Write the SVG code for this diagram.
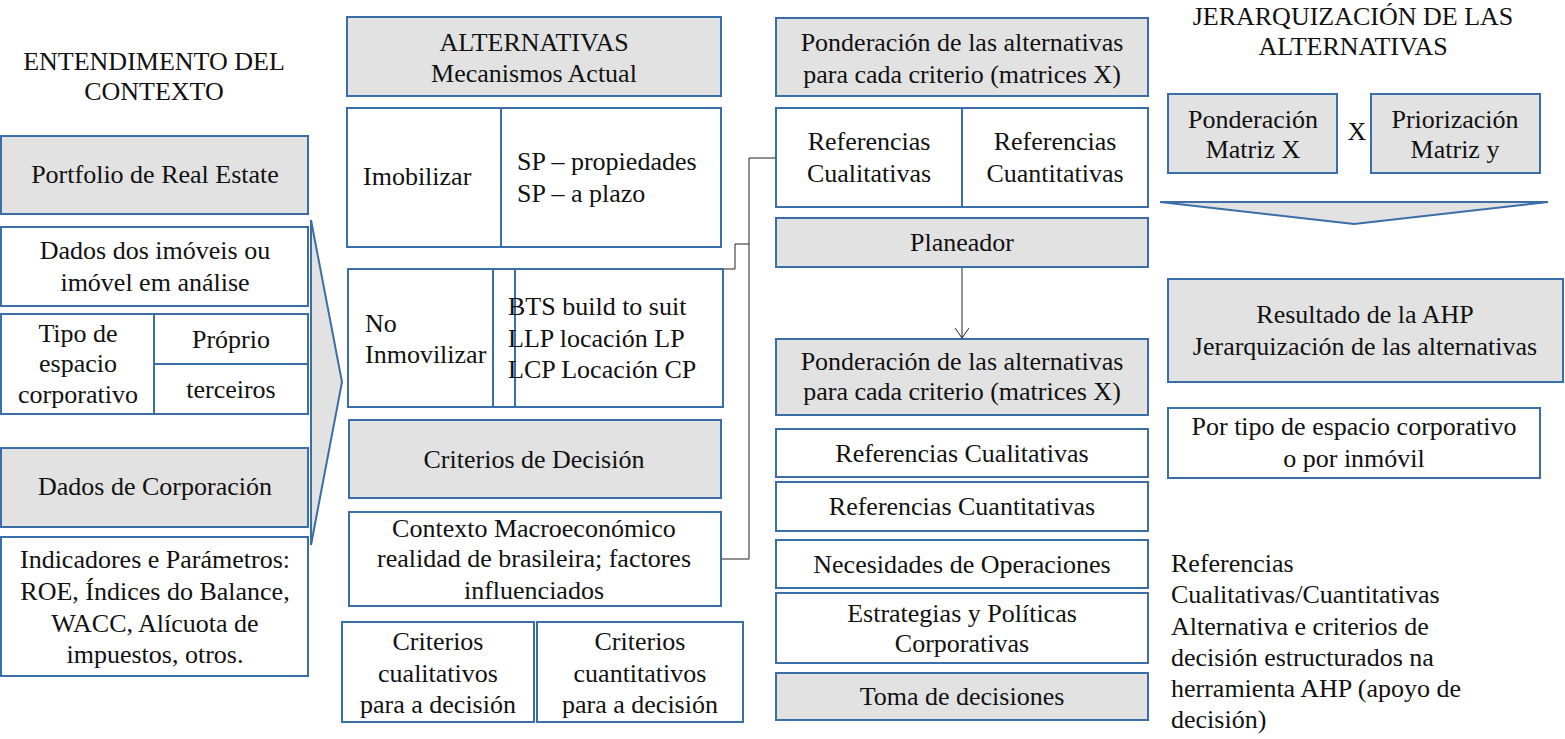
<svg xmlns="http://www.w3.org/2000/svg" width="1565" height="739" viewBox="0 0 1565 739">
<style>
.b{fill:#fff;stroke:#3b6ea8;stroke-width:2}
.g{fill:#e2e2e2;stroke:#3b6ea8;stroke-width:2}
.l{fill:none;stroke:#3b6ea8;stroke-width:2}
text{font-size:26px;fill:#111}
.c{text-anchor:middle}
.cn{fill:none;stroke:#222;stroke-width:1}
</style>
<defs>
<marker id="v" markerWidth="14" markerHeight="14" refX="13" refY="7" orient="auto" markerUnits="userSpaceOnUse" viewBox="0 0 14 14">
<path d="M3,0 L13,7 L3,14" fill="none" stroke="#222" stroke-width="1"/>
</marker>
</defs>
<rect width="1565" height="739" fill="#fff"/>

<g id="connectors">
<path class="cn" d="M721,559 H749 V158 H776"/>
<path class="cn" d="M723,269 H735 V244 H749"/>
<path class="cn" d="M962,267 V338" marker-end="url(#v)"/>
</g>

<g font-family="Liberation Serif">
<g id="title-left">
<text class="c" x="154" y="70">ENTENDIMENTO DEL</text>
<text class="c" x="154" y="100">CONTEXTO</text>
</g>

<g id="arrow-left">
<polygon class="g" points="311,220 342,382 311,545"/>
</g>

<g id="portfolio">
<rect class="g" x="1" y="136" width="307" height="78"/>
<text class="c" x="155" y="183">Portfolio de Real Estate</text>
</g>
<g id="dados-imoveis">
<rect class="b" x="1" y="227" width="307" height="79"/>
<text class="c" x="155" y="259">Dados dos imóveis ou</text>
<text class="c" x="155" y="291">imóvel em análise</text>
</g>
<g id="tipo-espacio">
<rect class="b" x="1" y="314" width="307" height="100"/>
<path class="l" d="M154,314 V414 M154,364 H308"/>
<text class="c" x="78" y="342">Tipo de</text>
<text class="c" x="78" y="372">espacio</text>
<text class="c" x="78" y="403">corporativo</text>
<text class="c" x="231" y="348">Próprio</text>
<text class="c" x="231" y="398">terceiros</text>
</g>
<g id="dados-corporacion">
<rect class="g" x="1" y="448" width="307" height="79"/>
<text class="c" x="155" y="495">Dados de Corporación</text>
</g>
<g id="indicadores">
<rect class="b" x="1" y="537" width="307" height="139"/>
<text class="c" x="155" y="568">Indicadores e Parámetros:</text>
<text class="c" x="155" y="600">ROE, Índices do Balance,</text>
<text class="c" x="155" y="632">WACC, Alícuota de</text>
<text class="c" x="155" y="663">impuestos, otros.</text>
</g>

<g id="alternativas">
<rect class="g" x="347" y="17" width="374" height="79"/>
<text class="c" x="534" y="51">ALTERNATIVAS</text>
<text class="c" x="534" y="82">Mecanismos Actual</text>
</g>
<g id="imobilizar">
<rect class="b" x="347" y="108" width="374" height="139"/>
<path class="l" d="M501,108 V247"/>
<text x="363" y="185">Imobilizar</text>
<text x="517" y="170">SP – propiedades</text>
<text x="517" y="202">SP – a plazo</text>
</g>
<g id="no-inmovilizar">
<rect class="b" x="348" y="269" width="375" height="138"/>
<path class="l" d="M493,269 V407 M515,269 V407"/>
<text x="365" y="332">No</text>
<text x="365" y="363">Inmovilizar</text>
<text x="508" y="315">BTS build to suit</text>
<text x="508" y="347">LLP locación LP</text>
<text x="508" y="378">LCP Locación CP</text>
</g>
<g id="criterios-decision">
<rect class="g" x="349" y="420" width="372" height="78"/>
<text class="c" x="534" y="468">Criterios de Decisión</text>
</g>
<g id="contexto">
<rect class="b" x="349" y="512" width="372" height="94"/>
<text class="c" x="534" y="537">Contexto Macroeconómico</text>
<text class="c" x="534" y="567">realidad de brasileira;  factores</text>
<text class="c" x="534" y="599">influenciados</text>
</g>
<g id="criterios-cualitativos">
<rect class="b" x="342" y="622" width="192" height="100"/>
<text class="c" x="438" y="650">Criterios</text>
<text class="c" x="438" y="682">cualitativos</text>
<text class="c" x="438" y="713">para a decisión</text>
</g>
<g id="criterios-cuantitativos">
<rect class="b" x="537" y="622" width="206" height="100"/>
<text class="c" x="640" y="650">Criterios</text>
<text class="c" x="640" y="682">cuantitativos</text>
<text class="c" x="640" y="713">para a decisión</text>
</g>

<g id="ponderacion-1">
<rect class="g" x="776" y="18" width="372" height="78"/>
<text class="c" x="962" y="51">Ponderación de las alternativas</text>
<text class="c" x="962" y="83">para cada criterio (matrices X)</text>
</g>
<g id="referencias-1">
<rect class="b" x="776" y="108" width="372" height="99"/>
<path class="l" d="M962,108 V207"/>
<text class="c" x="869" y="150">Referencias</text>
<text class="c" x="869" y="182">Cualitativas</text>
<text class="c" x="1055" y="150">Referencias</text>
<text class="c" x="1055" y="182">Cuantitativas</text>
</g>
<g id="planeador">
<rect class="g" x="776" y="218" width="372" height="49"/>
<text class="c" x="962" y="251">Planeador</text>
</g>
<g id="ponderacion-2">
<rect class="g" x="776" y="339" width="372" height="76"/>
<text class="c" x="962" y="370">Ponderación de las alternativas</text>
<text class="c" x="962" y="400">para cada criterio (matrices X)</text>
</g>
<g id="ref-cualitativas">
<rect class="b" x="776" y="429" width="372" height="48"/>
<text class="c" x="962" y="462">Referencias Cualitativas</text>
</g>
<g id="ref-cuantitativas">
<rect class="b" x="776" y="482" width="372" height="49"/>
<text class="c" x="962" y="515">Referencias Cuantitativas</text>
</g>
<g id="necesidades">
<rect class="b" x="776" y="540" width="372" height="48"/>
<text class="c" x="962" y="573">Necesidades de Operaciones</text>
</g>
<g id="estrategias">
<rect class="b" x="776" y="593" width="372" height="70"/>
<text class="c" x="962" y="622">Estrategias y Políticas</text>
<text class="c" x="962" y="652">Corporativas</text>
</g>
<g id="toma-decisiones">
<rect class="g" x="776" y="673" width="372" height="47"/>
<text class="c" x="962" y="705">Toma de decisiones</text>
</g>

<g id="title-right">
<text class="c" x="1353" y="25">JERARQUIZACIÓN DE LAS</text>
<text class="c" x="1353" y="55">ALTERNATIVAS</text>
</g>
<g id="matriz-x">
<rect class="g" x="1168" y="94" width="169" height="79"/>
<text class="c" x="1253" y="128">Ponderación</text>
<text class="c" x="1253" y="158">Matriz X</text>
</g>
<g id="por">
<text class="c" x="1357" y="140">X</text>
</g>
<g id="matriz-y">
<rect class="g" x="1371" y="94" width="169" height="79"/>
<text class="c" x="1455" y="128">Priorización</text>
<text class="c" x="1455" y="158">Matriz y</text>
</g>
<g id="arrow-down">
<polygon class="g" points="1160,202 1548,202 1354,224"/>
</g>
<g id="resultado">
<rect class="g" x="1168" y="279" width="395" height="103"/>
<text class="c" x="1365" y="323">Resultado de la AHP</text>
<text class="c" x="1365" y="355">Jerarquización de las alternativas</text>
</g>
<g id="por-tipo">
<rect class="b" x="1168" y="408" width="372" height="70"/>
<text class="c" x="1354" y="435">Por tipo de espacio corporativo</text>
<text class="c" x="1354" y="467">o por inmóvil</text>
</g>
<g id="nota">
<text x="1171" y="572">Referencias</text>
<text x="1171" y="603">Cualitativas/Cuantitativas</text>
<text x="1171" y="635">Alternativa e criterios de</text>
<text x="1171" y="666">decisión estructurados na</text>
<text x="1171" y="697">herramienta AHP (apoyo de</text>
<text x="1171" y="728">decisión)</text>
</g>
</g>
</svg>
